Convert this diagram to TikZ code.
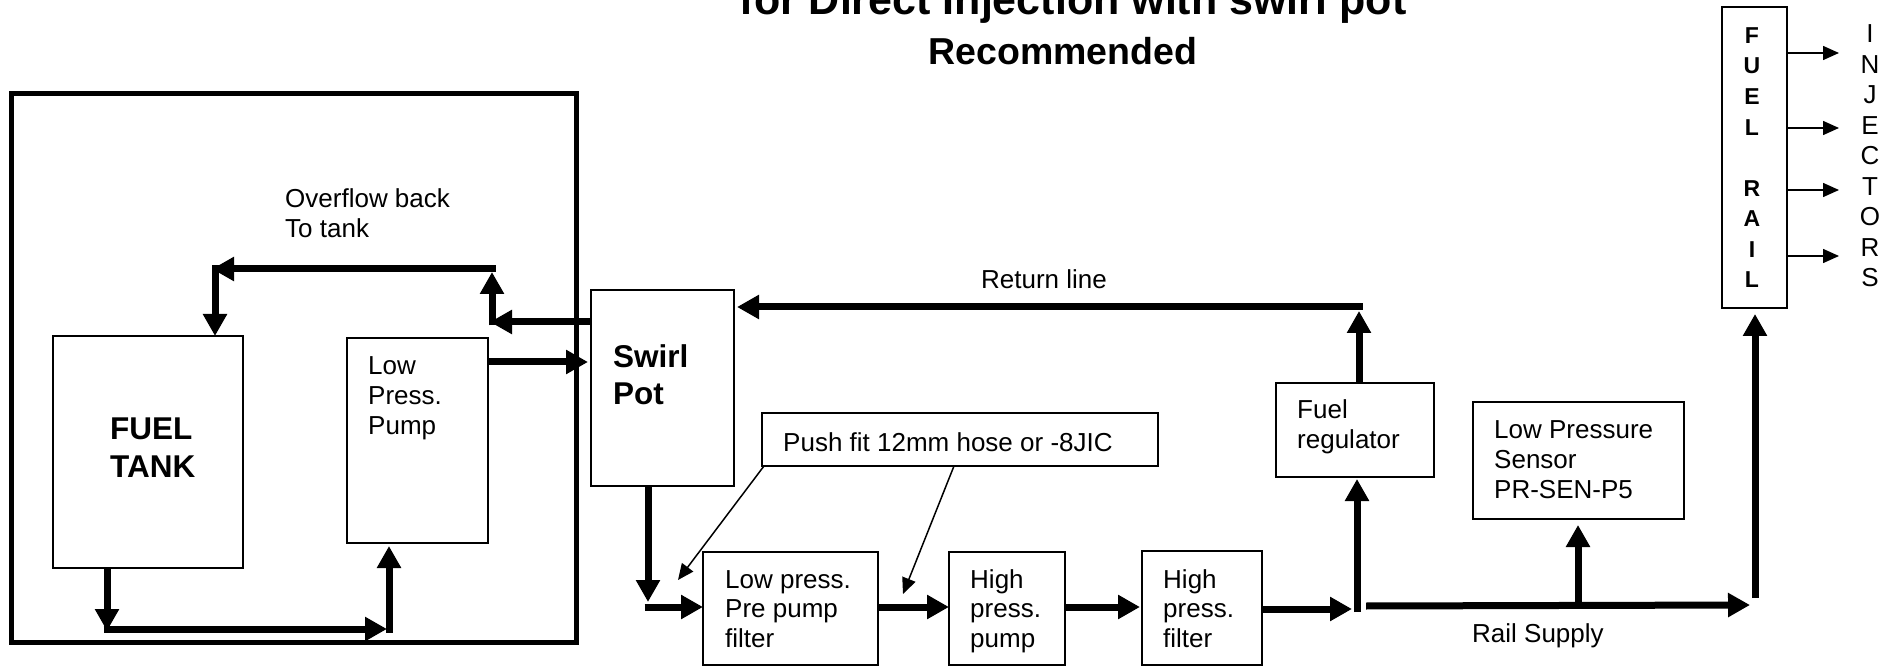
\documentclass[tikz,border=0pt]{standalone}
\usepackage{fontspec}
\setmainfont{Liberation Sans}
\usetikzlibrary{arrows.meta,calc}
\begin{document}
\begin{tikzpicture}[x=1pt,y=-1pt,
  box/.style={draw, line width=1.8pt, inner sep=0pt, outer sep=0pt, anchor=north west},
  pipe/.style={line width=7pt, -{Triangle[length=22pt,width=23pt]}},
  fine/.style={line width=1.5pt, -{Triangle[length=16pt,width=14pt]}},
  lbl/.style={inner sep=0pt, anchor=base west, align=left, font=\fontsize{26}{30}\selectfont},
  blbl/.style={inner sep=0pt, anchor=base west, align=left, font=\bfseries\fontsize{31.5}{37}\selectfont},
]
\useasboundingbox (0,0) rectangle (1883,668);
\fill[white] (0,0) rectangle (1883,668);

% title (its first line is cut by the top edge, as in the reference)
\node[font=\bfseries\fontsize{43}{50}\selectfont, anchor=base, inner sep=0pt] (title1) at (1073,15) {for Direct Injection with swirl pot};
\node[font=\bfseries\fontsize{37.5}{45}\selectfont, anchor=base, inner sep=0pt] (title2) at (1063,65) {Recommended};

% boxes
\node[box, line width=5pt, minimum width=565pt, minimum height=548pt] (frame) at (11,94) {};
\node[box, minimum width=190pt, minimum height=232pt] (tank) at (53,336) {};
\node[box, minimum width=141pt, minimum height=205pt] (lowpump) at (347,338) {};
\node[box, minimum width=143pt, minimum height=196pt] (swirl) at (591,290) {};
\node[box, minimum width=396pt, minimum height=53pt] (pushfit) at (762,413) {};
\node[box, minimum width=175pt, minimum height=113pt] (lpf) at (703,552) {};
\node[box, minimum width=116pt, minimum height=113pt] (hpp) at (949,552) {};
\node[box, minimum width=120pt, minimum height=114pt] (hpf) at (1142,551) {};
\node[box, minimum width=158pt, minimum height=94pt] (reg) at (1276,383) {};
\node[box, minimum width=211pt, minimum height=117pt] (sensor) at (1473,402) {};
\node[box, minimum width=65pt, minimum height=301pt] (rail) at (1722,7) {};

% texts (anchor = baseline of the last line)
\node[lbl] (ovtxt) at (285,238) {Overflow back\\To tank};
\node[blbl, font=\bfseries\fontsize{31.5}{38}\selectfont] (tanktxt) at (110,477) {FUEL\\TANK};
\node[lbl] (lptxt) at (368,434) {Low\\Press.\\Pump};
\node[blbl, font=\bfseries\fontsize{31.5}{36}\selectfont] (swtxt) at (613,404) {Swirl\\Pot};
\node[lbl] (pftxt) at (783,451) {Push fit 12mm hose or -8JIC};
\node[lbl, font=\fontsize{26}{29.5}\selectfont] (lpftxt) at (725,647) {Low press.\\Pre pump\\filter};
\node[lbl, font=\fontsize{26}{29.5}\selectfont] (hpptxt) at (970,647) {High\\press.\\pump};
\node[lbl, font=\fontsize{26}{29.5}\selectfont] (hpftxt) at (1163,647) {High\\press.\\filter};
\node[lbl, font=\fontsize{26}{29.5}\selectfont] (regtxt) at (1297,448) {Fuel\\regulator};
\node[lbl] (sentxt) at (1494,498) {Low Pressure\\Sensor\\PR-SEN-P5};
\node[lbl] (rstxt) at (1472,642) {Rail Supply};
\node[lbl, anchor=base] (rettxt) at (1044,289) {Return line};
\node[font=\bfseries\fontsize{23}{30.6}\selectfont, align=center, anchor=base, inner sep=0pt] (railtxt) at (1752,288) {F\\U\\E\\L\\[30.6pt]R\\A\\I\\L};
\node[font=\fontsize{26}{30.5}\selectfont, align=center, anchor=base, inner sep=0pt] (injtxt) at (1870,287) {I\\N\\J\\E\\C\\T\\O\\R\\S};

% overflow loop
\coordinate (ovA) at (490,322);
\coordinate (ovB) at (492,272);
\coordinate (ovC) at (212,269);
\draw[pipe] (swirl.west |- ovA) -- (ovA);
\draw[pipe] (492,325.5) -- (ovB);
\draw[pipe] (495.5,269) -- (ovC);
\draw[pipe] (215,265.5) -- (215,0 |- tank.north);

% tank to low pressure pump
\coordinate (tb) at (107,631);
\coordinate (tc) at (387,629);
\draw[pipe] (107,0 |- tank.south) -- (tb);
\draw[pipe] (103.5,629) -- (tc);
\draw[pipe] (389,632.5) -- ($(389,0 |- lowpump.south)+(0,3)$);

% low pump to swirl pot
\draw[pipe] (lowpump.east |- 0,362) -- ($(swirl.west |- 0,362)+(-3,0)$);

% swirl pot down the chain
\coordinate (sd) at (648,602);
\draw[pipe] (648,0 |- swirl.south) -- (sd);
\draw[pipe] (644.5,607) -- (lpf.west |- 0,607);
\draw[pipe] (lpf.east |- 0,607) -- (hpp.west |- 0,607);
\draw[pipe] (hpp.east |- 0,607) -- ($(hpf.west |- 0,607)+(-2,0)$);
\coordinate (jn) at (1352,609);
\draw[pipe] (hpf.east |- 0,609) -- (jn);
\draw[pipe] (1357,612) -- ($(1357,0 |- reg.south)+(0,2)$);
\draw[pipe] (1359,0 |- reg.north) -- (1359,311);
\draw[pipe] (1362.5,307) -- ($(swirl.east |- 0,307)+(3,0)$);

% rail supply
\coordinate (rs) at (1750,605);
\draw[pipe] (1366,606) -- (rs);
\draw[pipe] (1578,606) -- ($(1578,0 |- sensor.south)+(0,6)$);
\draw[pipe] (1755,598) -- ($(1755,0 |- rail.south)+(0,6)$);

% injectors
\foreach \yy in {53,128,190,256} \draw[fine] (rail.east |- 0,\yy) -- (1839,\yy);

% push fit pointers
\draw[fine] (pushfit.south west) ++(2,0) -- (678,580);
\draw[fine] (954,466) -- (903,594);
\end{tikzpicture}
\end{document}
